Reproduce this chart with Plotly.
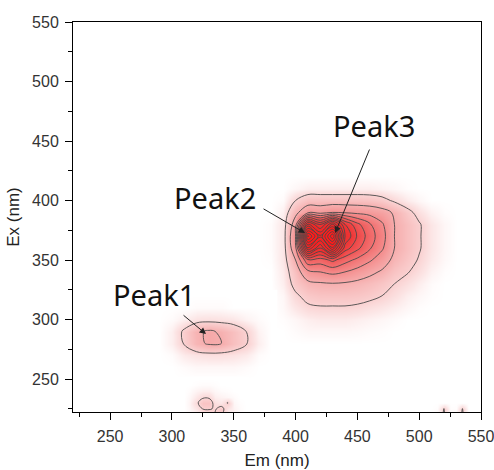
import plotly.graph_objects as go

# ---------------- data ----------------
# Main fluorescence region (Peak2 / Peak3)
main_em = [370, 380, 390, 400, 410, 420, 430, 440, 450, 460, 470, 480, 490, 500, 510, 520, 530]
main_ex = [280, 290, 300, 310, 320, 330, 340, 350, 360, 370, 380, 390, 400, 410, 420]
main_z = [
    [0, 0, 0, 0, 0, 0, 0, 0, 0, 0, 0, 0, 0, 0, 0, 0, 0],
    [0, 0, 0, 0.5, 1, 1, 1, 1, 0.8, 0.5, 0.3, 0, 0, 0, 0, 0, 0],
    [0, 0, 0.3, 1, 2, 2.5, 2.5, 2.5, 2, 1.5, 1, 0.5, 0, 0, 0, 0, 0],
    [0, 0, 0.8, 3, 5, 5.5, 5.5, 5.5, 5, 4, 3, 2, 1, 0.3, 0, 0, 0],
    [0, 0, 1, 5, 8, 9, 9, 9, 8.5, 7.5, 6, 4, 2, 1, 0.3, 0, 0],
    [0, 0, 2, 8, 12, 13, 13.5, 13, 12, 10.5, 8.5, 6, 4, 2, 0.5, 0, 0],
    [0, 0, 2.5, 10, 20, 22, 24, 22, 19, 16, 13, 9, 6.5, 4, 1.5, 0.3, 0],
    [0, 0.3, 3, 14, 36, 34, 40, 33, 28, 23, 18, 12, 8.5, 5.5, 2.5, 0.8, 0],
    [0, 0.5, 3, 20, 85, 62, 92, 50, 40, 31, 23, 14, 10, 6.5, 3, 1, 0],
    [0, 0.5, 3, 22, 120, 88, 125, 62, 45, 34, 25, 14, 10, 6.5, 3, 1, 0],
    [0, 0.5, 3, 18, 80, 60, 86, 54, 40, 31, 23, 14, 10, 6.5, 3, 1, 0],
    [0, 0, 2, 12, 20, 19, 22, 21, 20, 19, 17, 13, 8, 4, 1.5, 0.3, 0],
    [0, 0, 0.5, 6, 10, 10, 10, 10, 10, 9.5, 8, 5, 2.5, 1, 0, 0, 0],
    [0, 0, 0, 1, 2, 2, 2, 2, 2, 2, 1.5, 1, 0.3, 0, 0, 0, 0],
    [0, 0, 0, 0, 0, 0, 0, 0, 0, 0, 0, 0, 0, 0, 0, 0, 0],
]

# Peak1 region
p1_em = [290, 300, 310, 320, 330, 340, 350, 360, 370, 380]
p1_ex = [250, 260, 270, 280, 290, 300, 310, 320]
p1_z = [
    [0, 0, 0, 0, 0, 0, 0, 0, 0, 0],
    [0, 0, 0.5, 1, 1, 1, 1, 0.5, 0, 0],
    [0, 0.5, 2.5, 3.5, 4, 4, 3.5, 2.5, 0.5, 0],
    [0, 2, 6.5, 12, 15, 14, 10, 6.5, 2, 0],
    [0, 2, 7, 12.5, 15, 13, 10, 6, 1.5, 0],
    [0, 0.5, 2, 3.5, 3.8, 3.5, 3, 1.5, 0.5, 0],
    [0, 0, 0, 0.5, 0.5, 0.5, 0, 0, 0, 0],
    [0, 0, 0, 0, 0, 0, 0, 0, 0, 0],
]

# small spots near the lower edge
low_em = [305, 310, 315, 320, 325, 330, 335, 340, 345, 350, 355, 360]
low_ex = [215, 220, 225, 230, 235, 240, 245, 250]
low_z = [
    [0, 0, 0.5, 1, 2, 3, 6.5, 7, 2, 1, 0.5, 0],
    [0, 0, 0.5, 1, 2, 3, 6.5, 7, 2, 1, 0.5, 0],
    [0, 0, 1, 3, 6.2, 6.5, 5.5, 8, 3, 1.5, 0.5, 0],
    [0, 0, 1.5, 5, 9, 9, 4, 3, 6.3, 1, 0.3, 0],
    [0, 0, 1, 3, 5, 5, 2, 1.5, 1, 0.5, 0, 0],
    [0, 0, 0.5, 1.5, 2, 2, 1, 0.5, 0.3, 0, 0, 0],
    [0, 0, 0, 0.3, 0.5, 0.5, 0.3, 0, 0, 0, 0, 0],
    [0, 0, 0, 0, 0, 0, 0, 0, 0, 0, 0, 0],
]

edge_em = [505, 510, 515, 520, 525, 530, 535, 540, 545]
edge_ex = [215, 220, 225, 230]
edge_z = [
    [0, 0, 1, 6.8, 0.5, 1, 6.8, 0, 0],
    [0, 0, 1, 6.8, 0.5, 1, 6.8, 0, 0],
    [0, 0, 0.3, 6.2, 0.2, 0.3, 6.2, 0, 0],
    [0, 0, 0, 0, 0, 0, 0, 0, 0],
]

peak_labels = ["Peak1", "Peak2", "Peak3"]
peak_em = [327.6, 407.7, 432.0]        # arrow heads
peak_ex = [287.8, 372.7, 372.7]
tail_em = [308.2, 372.9, 460.3]        # arrow tails
tail_ex = [304.6, 393.7, 444.1]
label_em = [285.5, 334.5, 463.4]       # label centres
label_ex = [321.4, 402.9, 463.4]

x_ticks = [250, 300, 350, 400, 450, 500, 550]
y_ticks = [250, 300, 350, 400, 450, 500, 550]

# ---------------- figure ----------------
zmax = 100
cscale = [
    [0.0, "#ffffff"], [0.03, "#fce6e6"], [0.06, "#fad2d2"], [0.14, "#f6adad"],
    [0.22, "#f48e8e"], [0.30, "#f27272"], [0.38, "#f05a5a"], [0.46, "#ef4646"],
    [0.54, "#ee3535"], [0.75, "#f22626"], [1.0, "#ff1a1a"],
]
levels = dict(start=6, end=126, size=8, coloring="none")

grids = [(main_em, main_ex, main_z), (p1_em, p1_ex, p1_z),
         (low_em, low_ex, low_z), (edge_em, edge_ex, edge_z)]

fig = go.Figure()
for em, ex, z in grids:
    fig.add_trace(go.Heatmap(x=em, y=ex, z=z, zmin=0, zmax=zmax, zsmooth="best",
                             colorscale=cscale, showscale=False, hoverinfo="skip"))
for em, ex, z in grids:
    fig.add_trace(go.Contour(x=em, y=ex, z=z, contours=levels, showscale=False,
                             line=dict(color="#4a4a4a", width=0.9, smoothing=1.0),
                             hoverinfo="skip"))

for i, lab in enumerate(peak_labels):
    fig.add_annotation(x=label_em[i], y=label_ex[i], text=lab, showarrow=False,
                       font=dict(family="Noto Sans", size=29, color="#111"),
                       xanchor="center", yanchor="middle")
    fig.add_annotation(x=peak_em[i], y=peak_ex[i], ax=tail_em[i], ay=tail_ex[i],
                       axref="x", ayref="y", text="", showarrow=True,
                       arrowhead=2, arrowsize=1.3, arrowwidth=1, arrowcolor="#222")

axis_common = dict(
    showgrid=False, zeroline=False, showline=True, mirror=True,
    linecolor="black", linewidth=1, ticks="outside", ticklen=7, tickwidth=1,
    tickcolor="black", tickfont=dict(family="Liberation Sans", size=16, color="#333"),
    ticklabeloverflow="allow", ticklabelstandoff=3,
    minor=dict(ticks="outside", ticklen=4, dtick=25, tickcolor="black", showgrid=False),
)
fig.update_xaxes(range=[220, 550], tickvals=x_ticks, **axis_common,
                 title=dict(text="Em (nm)", font=dict(family="Liberation Sans", size=17, color="#222"),
                            standoff=14))
fig.update_yaxes(range=[222.3, 550], tickvals=y_ticks, **axis_common,
                 title=dict(text="Ex (nm)", font=dict(family="Liberation Sans", size=17, color="#222"),
                            standoff=8))
fig.update_layout(width=494, height=470, margin=dict(l=73, r=13, t=22, b=58, autoexpand=False),
                  plot_bgcolor="white", paper_bgcolor="white", showlegend=False)

fig.write_html("out.html")
